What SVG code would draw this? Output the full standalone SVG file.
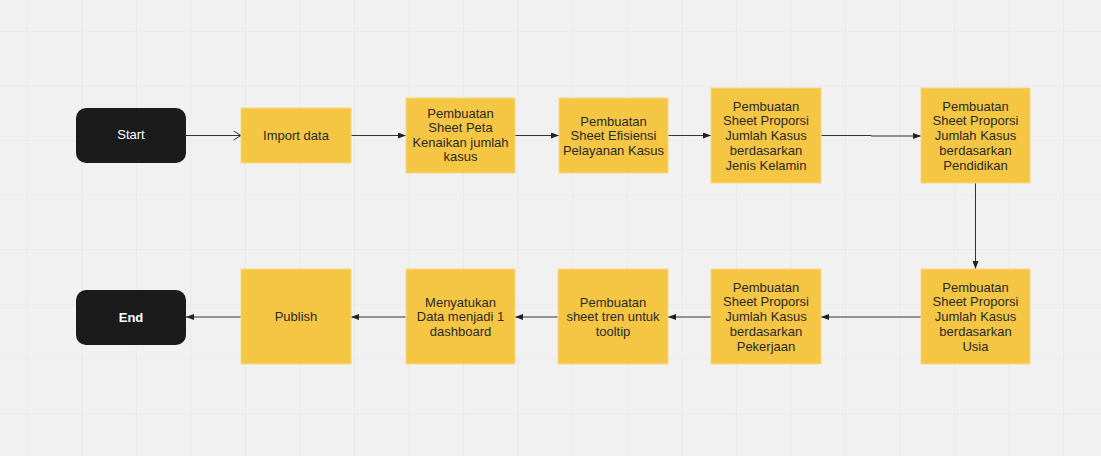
<svg xmlns="http://www.w3.org/2000/svg" width="1101" height="456" viewBox="0 0 1101 456">
<style>
.box{fill:#f5c644;stroke:#f8d77e;stroke-width:1}
.term{fill:#1b1b1b}
.t{font-family:"Liberation Sans",Arial,sans-serif;font-size:13px;fill:#2a2a2a;text-anchor:middle}
.tw{font-family:"Liberation Sans",Arial,sans-serif;font-size:13px;fill:#ffffff;text-anchor:middle}
.c{fill:none;stroke:#333333;stroke-width:1}
</style>
<defs>
<pattern id="grid" patternUnits="userSpaceOnUse" x="26.7" y="31" width="54.55" height="54.55">
<path d="M0 0H54.55M0 0V54.55" fill="none" stroke="#e4e4e4" stroke-width="1.2"/>
</pattern>
<marker id="tri" markerWidth="8" markerHeight="6" refX="8" refY="3" orient="auto" markerUnits="userSpaceOnUse">
<path d="M0 0L8 3L0 6Z" fill="#222"/>
</marker>
<marker id="open" markerWidth="9" markerHeight="10" refX="8.5" refY="5" orient="auto" markerUnits="userSpaceOnUse">
<path d="M1 0.5L8.5 5L1 9.5" fill="none" stroke="#333" stroke-width="1"/>
</marker>
</defs>
<rect width="1101" height="456" fill="#f1f1f1"/>
<rect width="1101" height="456" fill="url(#grid)"/>

<g id="connectors">
<path class="c" d="M186 135.5H241" marker-end="url(#open)"/>
<path class="c" d="M351 135.5H406" marker-end="url(#tri)"/>
<path class="c" d="M515 135.5H559" marker-end="url(#tri)"/>
<path class="c" d="M668 135.5H711" marker-end="url(#tri)"/>
<path class="c" d="M821 135.5H871V136H921" marker-end="url(#tri)"/>
<path class="c" d="M975.5 183V269" marker-end="url(#tri)"/>
<path class="c" d="M921 317H821" marker-end="url(#tri)"/>
<path class="c" d="M711 317H668" marker-end="url(#tri)"/>
<path class="c" d="M558 317H515" marker-end="url(#tri)"/>
<path class="c" d="M406 317H351" marker-end="url(#tri)"/>
<path class="c" d="M241 317H186" marker-end="url(#tri)"/>
</g>

<g id="start"><rect class="term" x="76" y="108" width="110" height="55" rx="10"/><text class="tw" x="131" y="139">Start</text></g>
<g id="import"><rect class="box" x="241" y="108" width="110" height="55"/><text class="t" x="296" y="140">Import data</text></g>
<g id="peta"><rect class="box" x="406" y="98" width="109" height="75"/><text class="t" x="460.5" y="117.5">Pembuatan<tspan x="460.5" dy="14.6">Sheet Peta</tspan><tspan x="460.5" dy="14.6">Kenaikan jumlah</tspan><tspan x="460.5" dy="14.6">kasus</tspan></text></g>
<g id="efisiensi"><rect class="box" x="559" y="98" width="109" height="75"/><text class="t" x="613.5" y="125.5">Pembuatan<tspan x="613.5" dy="14.8">Sheet Efisiensi</tspan><tspan x="613.5" dy="14.8">Pelayanan Kasus</tspan></text></g>
<g id="kelamin"><rect class="box" x="711" y="88" width="110" height="95"/><text class="t" x="766" y="110.5">Pembuatan<tspan x="766" dy="14.8">Sheet Proporsi</tspan><tspan x="766" dy="14.8">Jumlah Kasus</tspan><tspan x="766" dy="14.8">berdasarkan</tspan><tspan x="766" dy="14.8">Jenis Kelamin</tspan></text></g>
<g id="pendidikan"><rect class="box" x="921" y="88" width="109" height="95"/><text class="t" x="975.5" y="110.5">Pembuatan<tspan x="975.5" dy="14.8">Sheet Proporsi</tspan><tspan x="975.5" dy="14.8">Jumlah Kasus</tspan><tspan x="975.5" dy="14.8">berdasarkan</tspan><tspan x="975.5" dy="14.8">Pendidikan</tspan></text></g>
<g id="usia"><rect class="box" x="921" y="269" width="109" height="95"/><text class="t" x="975.5" y="291.5">Pembuatan<tspan x="975.5" dy="14.8">Sheet Proporsi</tspan><tspan x="975.5" dy="14.8">Jumlah Kasus</tspan><tspan x="975.5" dy="14.8">berdasarkan</tspan><tspan x="975.5" dy="14.8">Usia</tspan></text></g>
<g id="pekerjaan"><rect class="box" x="711" y="269" width="110" height="95"/><text class="t" x="766" y="291.5">Pembuatan<tspan x="766" dy="14.8">Sheet Proporsi</tspan><tspan x="766" dy="14.8">Jumlah Kasus</tspan><tspan x="766" dy="14.8">berdasarkan</tspan><tspan x="766" dy="14.8">Pekerjaan</tspan></text></g>
<g id="tooltip"><rect class="box" x="558" y="269" width="110" height="95"/><text class="t" x="613" y="306.5">Pembuatan<tspan x="613" dy="14.8">sheet tren untuk</tspan><tspan x="613" dy="14.8">tooltip</tspan></text></g>
<g id="menyatukan"><rect class="box" x="406" y="269" width="109" height="95"/><text class="t" x="460.5" y="306.5">Menyatukan<tspan x="460.5" dy="14.8">Data menjadi 1</tspan><tspan x="460.5" dy="14.8">dashboard</tspan></text></g>
<g id="publish"><rect class="box" x="241" y="269" width="110" height="95"/><text class="t" x="296" y="321">Publish</text></g>
<g id="end"><rect class="term" x="76" y="290" width="110" height="55" rx="10"/><text class="tw" x="131" y="321.5" font-weight="bold">End</text></g>
</svg>
